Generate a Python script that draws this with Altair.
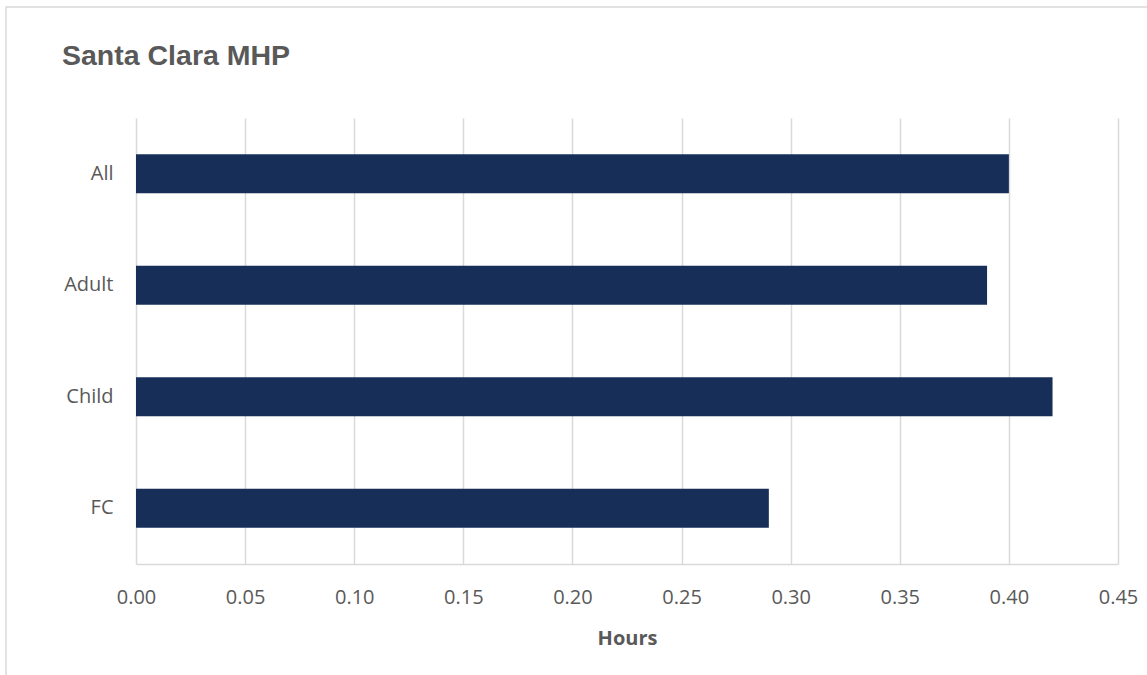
import altair as alt
import pandas as pd

categories = ["All", "Adult", "Child", "FC"]
hours = [0.40, 0.39, 0.42, 0.29]
x_ticks = [0, 0.05, 0.10, 0.15, 0.20, 0.25, 0.30, 0.35, 0.40, 0.45]

df = pd.DataFrame({"group": categories, "hours": hours})

FONT = "Open Sans"
GRAY = "#595959"

frame = alt.Chart(pd.DataFrame({"k": [0]})).mark_rect(
    fill=None, stroke="#d9d9d9", strokeWidth=1.5
).encode(
    x=alt.value(-130), x2=alt.value(1040),
    y=alt.value(-111), y2=alt.value(580)
)

bars = alt.Chart(df).mark_bar(color="#172f58").encode(
    x=alt.X("hours:Q", title="Hours",
            scale=alt.Scale(domain=[0, 0.45], nice=False, zero=True),
            axis=alt.Axis(values=x_ticks, format=".2f", grid=True,
                          gridColor="#d9d9d9", gridWidth=1.5,
                          domainColor="#d9d9d9", domainWidth=1.5,
                          ticks=False, labelFlush=False, labelOverlap=False,
                          labelFont=FONT, labelFontSize=20,
                          labelColor=GRAY, labelPadding=23,
                          titleFont=FONT, titleFontSize=20, titleFontWeight="bold",
                          titleColor=GRAY, titlePadding=21)),
    y=alt.Y("group:N", title=None, sort=categories,
            scale=alt.Scale(paddingInner=0.65, paddingOuter=0.325),
            axis=alt.Axis(ticks=False, domain=False, labelFont=FONT,
                          labelFontSize=20, labelColor=GRAY, labelPadding=23)),
)

chart = alt.layer(frame, bars).properties(
    width=982, height=446,
    background="white",
    autosize=alt.AutoSizeParams(type="none"),
    padding={"left": 136, "top": 118, "right": 29, "bottom": 111},
    title=alt.TitleParams("Santa Clara MHP", anchor="start", frame="group",
                          dx=-74, offset=0, dy=87, baseline="alphabetic",
                          font="Liberation Sans",
                          fontSize=28.5, fontWeight="bold", color=GRAY),
).configure_view(stroke=None)

chart.save("out.html", embed_options={"renderer": "svg", "actions": False})
